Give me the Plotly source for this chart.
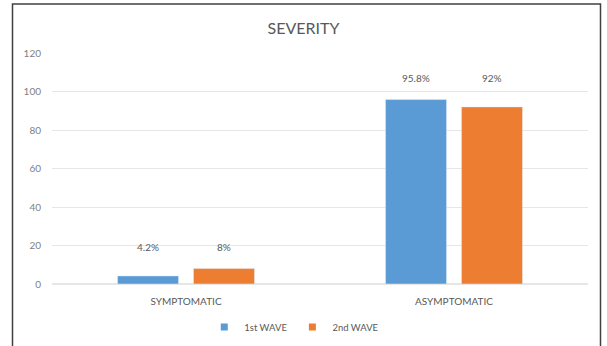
import plotly.graph_objects as go

categories = ["SYMPTOMATIC", "ASYMPTOMATIC"]
series_names = ["1st WAVE", "2nd WAVE"]
wave1 = [4.2, 95.8]
wave2 = [8, 92]
labels1 = ["4.2%", "95.8%"]
labels2 = ["8%", "92%"]
y_ticks = [0, 20, 40, 60, 80, 100, 120]

FONT = "Lato"
TXT = "#595959"
COLORS = ["#5B9BD5", "#ED7D31"]

fig = go.Figure()
fig.add_trace(go.Bar(x=categories, y=wave1, name=series_names[0], marker_color=COLORS[0], showlegend=False))
fig.add_trace(go.Bar(x=categories, y=wave2, name=series_names[1], marker_color=COLORS[1], showlegend=False))
# legend entries with small square markers
for name, col in zip(series_names, COLORS):
    fig.add_trace(go.Scatter(x=[None], y=[None], mode="markers", name=name,
                             marker=dict(symbol="square", size=7, color=col)))

annotations = []
for i, c in enumerate(categories):
    mid = (wave1[i] + wave2[i]) / 2
    for labs, shift in ((labels1, -38), (labels2, 38)):
        annotations.append(dict(x=c, y=mid, xref="x", yref="y", text=labs[i],
                                showarrow=False, xshift=shift, yshift=17.5,
                                yanchor="bottom", font=dict(size=10, color=TXT, family=FONT)))

fig.update_layout(
    width=607, height=346,
    margin=dict(l=52, r=19, t=53, b=62, autoexpand=False),
    paper_bgcolor="white", plot_bgcolor="white",
    barmode="group", bargap=0.433, bargroupgap=0.197,
    title=dict(text="SEVERITY", x=0.5, xanchor="center", y=1 - 28 / 346, yanchor="middle",
               font=dict(size=16, color=TXT, family=FONT)),
    font=dict(family=FONT, color=TXT, size=10),
    showlegend=True,
    legend=dict(orientation="h", x=0.452, xanchor="center", xref="paper",
                yref="container", y=1 - 327 / 346, yanchor="middle",
                font=dict(size=9.5, color=TXT, family=FONT), itemwidth=30, tracegroupgap=0),
    annotations=annotations,
    shapes=[dict(type="rect", xref="paper", yref="paper",
                 x0=(12.5 - 52) / 536, x1=(600.5 - 52) / 536,
                 y0=-70 / 231, y1=1 + 49 / 231,
                 line=dict(color="#404040", width=1.5))],
)
fig.update_xaxes(showgrid=False, showline=False, ticks="", tickfont=dict(size=10, color=TXT),
                 ticklabelstandoff=10)
fig.update_yaxes(range=[0, 120], tickvals=y_ticks, showgrid=True, gridcolor="#e6e6e6",
                 zeroline=True, zerolinecolor="#e6e6e6", showline=False, ticks="",
                 tickfont=dict(size=10, color="#7f7f7f"), ticklabelstandoff=10)

fig.write_html("out.html")
